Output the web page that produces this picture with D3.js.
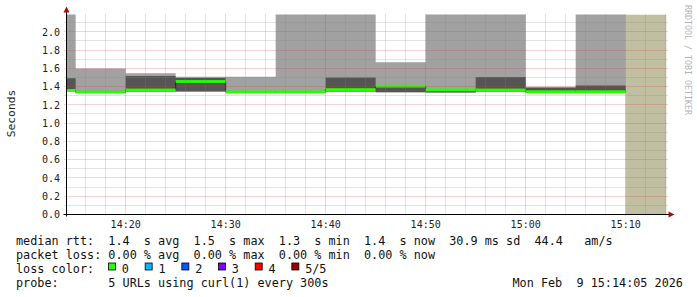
<!DOCTYPE html>
<html>
<head>
<meta charset="utf-8">
<script src="https://cdnjs.cloudflare.com/ajax/libs/d3/7.8.5/d3.min.js"></script>
<style>
    body { margin: 0; background: #fff; }
    text { font-family: "DejaVu Sans Mono", monospace; white-space: pre; }
</style>
</head>
<body>
<div id="graph"></div>
<script>
// 5 minute bins, value shown for the interval starting at the given time
var binTimes = [ "14:10", "14:15", "14:20", "14:25", "14:30", "14:35",
                 "14:40", "14:45", "14:50", "14:55", "15:00", "15:05" ];
var dataEnd = "15:10";
var smokeMin  = [ 1.350, 1.330, 1.345, 1.345, 1.335, 1.335, 1.345, 1.337, 1.335, 1.345, 1.340, 1.335 ];
var smokeDark = [ 1.490, 1.345, 1.515, 1.495, 1.345, 1.345, 1.500, 1.402, 1.362, 1.505, 1.388, 1.412 ];
var smokeMax  = [ 2.500, 1.598, 1.545, 1.507, 1.507, 2.500, 2.500, 1.667, 2.500, 2.500, 1.398, 2.500 ];
var medianRtt = [ 1.358, 1.341, 1.363, 1.456, 1.343, 1.343, 1.367, 1.405, 1.364, 1.363, 1.344, 1.344 ];
var lossCount = [ 0, 0, 0, 0, 0, 0, 0, 0, 0, 0, 0, 0 ];

var yTicks = [ 0.0, 0.2, 0.4, 0.6, 0.8, 1.0, 1.2, 1.4, 1.6, 1.8, 2.0 ];
var yMax = 2.189;
var lossLabels = [ "0", "1", "2", "3", "4", "5/5" ];
var lossColors = [ "#26ff00", "#00b8ff", "#0059ff", "#7e00ff", "#ff0000", "#a10000" ];
var legendLines = [
    "median rtt:  1.4  s avg  1.5  s max  1.3  s min  1.4  s now  30.9 ms sd  44.4   am/s",
    "packet loss: 0.00 % avg  0.00 % max  0.00 % min  0.00 % now",
    "loss color:",
    "probe:       5 URLs using curl(1) every 300s"
];
var stamp = "Mon Feb  9 15:14:05 2026";

function at( hm ) {
    var p = hm.split( ":" );
    return new Date( 2026, 1, 9, +p[0], +p[1], p[2] ? +p[2] : 0 );
}

var width = 697;
var height = 297;
var plotL = 66.5, plotR = 666.5, plotT = 14.5, plotB = 214.5;

var x = d3.scaleTime()
    .domain( [ at( "14:14:05" ), at( "15:14:05" ) ] )
    .range( [ plotL, plotR ] );
var y = d3.scaleLinear()
    .domain( [ 0, yMax ] )
    .range( [ plotB, plotT ] );

var vis = d3.select( "#graph" ).append( "svg" )
    .attr( "width", width )
    .attr( "height", height );

vis.append( "rect" ).attr( "width", width ).attr( "height", height ).attr( "fill", "#fff" );

vis.append( "clipPath" ).attr( "id", "plot" )
    .append( "rect" )
    .attr( "x", plotL ).attr( "y", plotT )
    .attr( "width", plotR - plotL ).attr( "height", plotB - plotT );

// points for the step curves, last value repeated at the end of the data
var pts = binTimes.map( function( t, i ) {
    return { t: at( t ), lo: smokeMin[i], dark: smokeDark[i], hi: smokeMax[i], med: medianRtt[i], loss: lossCount[i] };
});
var last = pts[ pts.length - 1 ];
pts.push( Object.assign( {}, last, { t: at( dataEnd ) } ) );

var g = vis.append( "g" ).attr( "clip-path", "url(#plot)" );

// unknown area after the last update
g.append( "rect" )
    .attr( "x", x( at( dataEnd ) ) )
    .attr( "y", plotT )
    .attr( "width", plotR - x( at( dataEnd ) ) )
    .attr( "height", plotB - plotT )
    .attr( "fill", "#c1bfa1" );

var lightArea = d3.area().curve( d3.curveStepAfter )
    .x( function( d ) { return x( d.t ); })
    .y0( function( d ) { return y( d.lo ); })
    .y1( function( d ) { return y( d.hi ); });
var darkArea = d3.area().curve( d3.curveStepAfter )
    .x( function( d ) { return x( d.t ); })
    .y0( function( d ) { return y( d.lo ); })
    .y1( function( d ) { return y( d.dark ); });
var medLine = d3.line().curve( d3.curveStepAfter )
    .x( function( d ) { return x( d.t ); })
    .y( function( d ) { return y( d.med ); });

g.append( "path" ).attr( "d", lightArea( pts ) ).attr( "fill", "#a1a1a1" );
g.append( "path" ).attr( "d", darkArea( pts ) ).attr( "fill", "#555555" );
g.append( "path" ).attr( "d", medLine( pts ) )
    .attr( "fill", "none" ).attr( "stroke", "#202020" ).attr( "stroke-width", 1 );

// median band coloured by loss
g.selectAll( "rect.med" )
    .data( pts.slice( 0, -1 ) )
    .enter().append( "rect" )
    .attr( "class", "med" )
    .attr( "x", function( d ) { return x( d.t ); })
    .attr( "width", function( d, i ) { return x( pts[ i + 1 ].t ) - x( d.t ); })
    .attr( "y", function( d ) { return y( d.med ) - 1.4; })
    .attr( "height", 2.8 )
    .attr( "fill", function( d ) { return lossColors[ d.loss ]; });

// grid on top of the data
var minorY = d3.range( 0.1, yMax, 0.1 ).filter( function( v ) { return Math.abs( Math.round( v * 5 ) - v * 5 ) > 0.01; });
var majorY = yTicks.filter( function( v ) { return v > 0; });
var minorX = x.ticks( d3.timeMinute.every( 2 ) ).filter( function( d ) { return d.getMinutes() % 10 != 0; });
var majorX = x.ticks( d3.timeMinute.every( 10 ) );

function crisp( v ) { return Math.round( v - 0.5 ) + 0.5; }

var grid = vis.append( "g" );
grid.selectAll( "line.hminor" )
    .data( minorY )
    .enter().append( "line" )
    .attr( "x1", plotL - 2 ).attr( "x2", plotR + 2 )
    .attr( "y1", function( d ) { return crisp( y( d ) ); })
    .attr( "y2", function( d ) { return crisp( y( d ) ); })
    .attr( "stroke", "rgba(130,130,130,0.45)" ).attr( "stroke-dasharray", "1,1" );
grid.selectAll( "line.vminor" )
    .data( minorX )
    .enter().append( "line" )
    .attr( "y1", plotT ).attr( "y2", plotB + 2 )
    .attr( "x1", function( d ) { return crisp( x( d ) ); })
    .attr( "x2", function( d ) { return crisp( x( d ) ); })
    .attr( "stroke", "rgba(130,130,130,0.45)" ).attr( "stroke-dasharray", "1,1" );
grid.selectAll( "line.hmajor" )
    .data( majorY )
    .enter().append( "line" )
    .attr( "x1", plotL - 2 ).attr( "x2", plotR + 2 )
    .attr( "y1", function( d ) { return crisp( y( d ) ); })
    .attr( "y2", function( d ) { return crisp( y( d ) ); })
    .attr( "stroke", "rgba(210,60,60,0.45)" ).attr( "stroke-dasharray", "1,1" );
grid.selectAll( "line.vmajor" )
    .data( majorX )
    .enter().append( "line" )
    .attr( "y1", plotT ).attr( "y2", plotB + 2 )
    .attr( "x1", function( d ) { return crisp( x( d ) ); })
    .attr( "x2", function( d ) { return crisp( x( d ) ); })
    .attr( "stroke", "rgba(210,60,60,0.45)" ).attr( "stroke-dasharray", "1,1" );

// axes
vis.append( "line" )
    .attr( "x1", plotL ).attr( "x2", plotL ).attr( "y1", plotB + 2 ).attr( "y2", plotT - 4 )
    .attr( "stroke", "#000" );
vis.append( "line" )
    .attr( "x1", plotL - 3 ).attr( "x2", plotR + 4 ).attr( "y1", plotB ).attr( "y2", plotB )
    .attr( "stroke", "#000" );
vis.append( "path" )
    .attr( "d", "M" + ( plotL - 3 ) + "," + ( plotT - 2 ) + "L" + plotL + "," + ( plotT - 8 ) + "L" + ( plotL + 3 ) + "," + ( plotT - 2 ) + "Z" )
    .attr( "fill", "#a01010" );
vis.append( "path" )
    .attr( "d", "M" + ( plotR + 2 ) + "," + ( plotB - 3 ) + "L" + ( plotR + 8 ) + "," + plotB + "L" + ( plotR + 2 ) + "," + ( plotB + 3 ) + "Z" )
    .attr( "fill", "#a01010" );

vis.selectAll( "text.ytick" )
    .data( yTicks )
    .enter().append( "text" )
    .attr( "x", 60 )
    .attr( "y", function( d ) { return y( d ) + 3.8; })
    .attr( "text-anchor", "end" )
    .attr( "font-size", "10px" )
    .attr( "fill", "#222" )
    .text( function( d ) { return d3.format( ".1f" )( d ); });

vis.selectAll( "text.xtick" )
    .data( majorX )
    .enter().append( "text" )
    .attr( "x", function( d ) { return x( d ); })
    .attr( "y", 228 )
    .attr( "text-anchor", "middle" )
    .attr( "font-size", "10px" )
    .attr( "fill", "#222" )
    .text( d3.timeFormat( "%H:%M" ) );

vis.append( "text" )
    .attr( "transform", "translate(15,113.5) rotate(-90)" )
    .attr( "text-anchor", "middle" )
    .attr( "font-size", "11.3px" )
    .attr( "fill", "#222" )
    .text( "Seconds" );

vis.append( "text" )
    .attr( "transform", "translate(685,5) rotate(90)" )
    .attr( "font-size", "8.3px" )
    .attr( "fill", "#b4b4b4" )
    .text( "RRDTOOL / TOBI OETIKER" );

// legend
vis.selectAll( "text.legend" )
    .data( legendLines )
    .enter().append( "text" )
    .attr( "x", 16 )
    .attr( "y", function( d, i ) { return 245 + i * 14; })
    .attr( "font-size", "11.8px" )
    .attr( "fill", "#111" )
    .text( function( d ) { return d; });

var boxes = vis.selectAll( "g.loss" )
    .data( lossLabels )
    .enter().append( "g" )
    .attr( "transform", function( d, i ) { return "translate(" + ( 108.5 + i * 36.67 ) + ",263)"; });
boxes.append( "rect" )
    .attr( "width", 7 ).attr( "height", 7 )
    .attr( "fill", function( d, i ) { return lossColors[i]; })
    .attr( "stroke", "#000" ).attr( "stroke-width", 0.8 );
boxes.append( "text" )
    .attr( "x", 13.3 ).attr( "y", 10 )
    .attr( "font-size", "11.8px" )
    .attr( "fill", "#111" )
    .text( function( d ) { return d; });

vis.append( "text" )
    .attr( "x", 512.5 ).attr( "y", 287 )
    .attr( "font-size", "11.8px" )
    .attr( "fill", "#111" )
    .text( stamp );
</script>
</body>
</html>
